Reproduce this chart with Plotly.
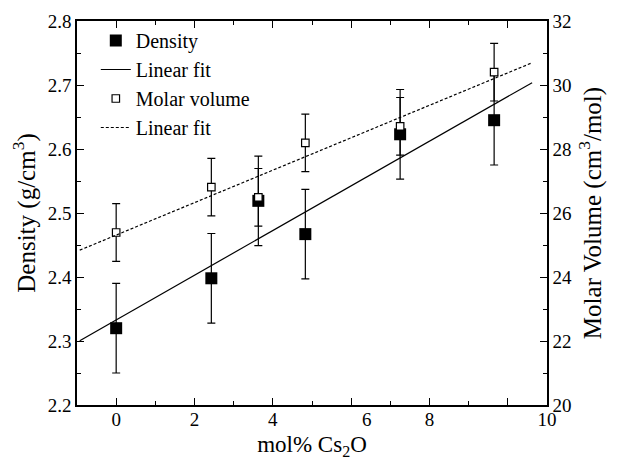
import plotly.graph_objects as go

# ---- data ----
cs2o_mol = [0, 2.43, 3.63, 4.83, 7.25, 9.65]
density = [2.320, 2.398, 2.519, 2.467, 2.623, 2.645]
density_err = [0.07, 0.07, 0.07, 0.07, 0.07, 0.07]
molar_volume = [25.39, 26.81, 26.49, 28.19, 28.71, 30.40]
molar_err = [0.9, 0.9, 0.9, 0.9, 0.9, 0.9]

# linear fits (intercept, slope) and the x span of the fit lines
density_fit = (2.333, 0.0349)
molar_fit = (25.31, 0.507)
fit_x = [-0.93, 10.62]

# x tick marks and (as printed in the original) label positions
x_tick_vals = [0, 2, 4, 6, 8, 10]
x_label_pos = [0, 2, 4, 6.4, 8, 11]
x_label_text = ["0", "2", "4", "6", "8", "10"]

FONT = "Liberation Serif, Times New Roman, serif"

fig = go.Figure()

fig.add_trace(go.Scatter(
    x=cs2o_mol, y=density, mode="markers", name="Density",
    marker=dict(symbol="square", size=12, color="black"),
    error_y=dict(type="data", array=density_err, color="black", thickness=1.2, width=4),
))
fig.add_trace(go.Scatter(
    x=fit_x, y=[density_fit[0] + density_fit[1] * v for v in fit_x],
    mode="lines", name="Linear fit", line=dict(color="black", width=1.2),
))
fig.add_trace(go.Scatter(
    x=cs2o_mol, y=molar_volume, mode="markers", name="Molar volume", yaxis="y2",
    marker=dict(symbol="square", size=7.5, color="white", line=dict(color="black", width=1.2)),
    error_y=dict(type="data", array=molar_err, color="black", thickness=1.2, width=4),
))
fig.add_trace(go.Scatter(
    x=fit_x, y=[molar_fit[0] + molar_fit[1] * v for v in fit_x],
    mode="lines", name="Linear fit", yaxis="y2",
    line=dict(color="black", width=1.2, dash="3px,2px"),
))
# invisible trace to carry the label axis
fig.add_trace(go.Scatter(x=[x_label_pos[0]], y=[density[0]], xaxis="x2", mode="markers",
                         marker=dict(opacity=0), showlegend=False, hoverinfo="skip"))

axis_common = dict(
    showgrid=False, zeroline=False, showline=True, linecolor="black", linewidth=1.5,
    ticks="inside", tickcolor="black", tickwidth=1.2, automargin=False,
    tickfont=dict(family=FONT, size=19, color="black"),
)

# the page body adds an 8px offset, so the figure is sized 610x452
fig.update_layout(
    width=610, height=452,
    margin=dict(l=69, r=71, t=13, b=55),
    paper_bgcolor="white", plot_bgcolor="white",
    font=dict(family=FONT, size=19, color="black"),
    xaxis=dict(
        range=[-1, 11], tickvals=x_tick_vals, showticklabels=False, ticklen=7,
        minor=dict(dtick=1, ticklen=4, ticks="inside", tickcolor="black", tickwidth=1.2),
        mirror="ticks",
        title=dict(text="mol% Cs<sub>2</sub>O", font=dict(family=FONT, size=23), standoff=31),
        **axis_common,
    ),
    xaxis2=dict(
        range=[-1, 11], overlaying="x", anchor="y", side="bottom", automargin=False,
        tickvals=x_label_pos, ticktext=x_label_text, ticks="", showline=False,
        ticklabelstandoff=1,
        showgrid=False, zeroline=False, tickfont=dict(family=FONT, size=19, color="black"),
    ),
    yaxis=dict(
        range=[2.2, 2.8], dtick=0.1, tickformat=".1f", ticklen=7,
        minor=dict(dtick=0.05, ticklen=4, ticks="inside", tickcolor="black", tickwidth=1.2),
        title=dict(text="Density (g/cm<sup>3</sup>)", font=dict(family=FONT, size=25), standoff=10),
        **axis_common,
    ),
    yaxis2=dict(
        range=[20, 32], dtick=2, overlaying="y", side="right", anchor="x", ticklen=7,
        minor=dict(dtick=1, ticklen=4, ticks="inside", tickcolor="black", tickwidth=1.2),
        title=dict(text="Molar Volume (cm<sup>3</sup>/mol)", font=dict(family=FONT, size=25), standoff=12),
        **axis_common,
    ),
    legend=dict(
        x=0.04, y=1.0, xanchor="left", yanchor="top",
        bgcolor="rgba(0,0,0,0)", font=dict(family=FONT, size=20),
        tracegroupgap=0,
    ),
    showlegend=True,
)

fig.write_html("out.html")
